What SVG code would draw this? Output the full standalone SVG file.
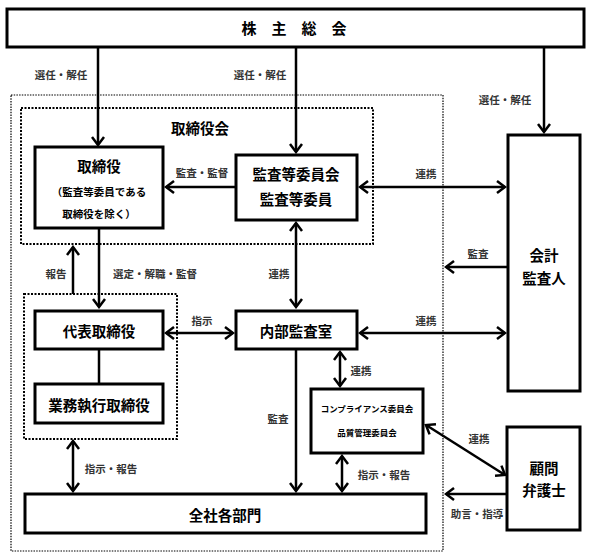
<svg xmlns="http://www.w3.org/2000/svg" width="591" height="558" viewBox="0 0 591 558">
<style>
text{font-family:"Noto Sans CJK JP","Noto Sans CJK SC",sans-serif;text-anchor:middle;dominant-baseline:central;fill:#000}
.box{fill:#fff;stroke:#000;stroke-width:3}
.t{font-size:14.5px;font-weight:bold}
.s{font-size:10.5px;font-weight:bold}
.xs{font-size:8.5px;font-weight:bold}
.lb{font-size:10.5px;font-weight:bold;fill:#333}
.dot1{fill:none;stroke:#000;stroke-width:1.2;stroke-dasharray:1.5 1.2}
.dot2{fill:none;stroke:#000;stroke-width:2;stroke-dasharray:2 1.5}
.c{fill:none;stroke:#000;stroke-width:2.5}
</style>
<defs>
<marker id="ah" markerUnits="userSpaceOnUse" viewBox="-12 -9 14 18" refX="0" refY="0" markerWidth="14" markerHeight="18" orient="auto-start-reverse">
<path d="M-8,-6 L0,0 L-8,6" fill="none" stroke="#000" stroke-width="2.5"/>
</marker>
</defs>
<rect width="591" height="558" fill="#fff"/>
<g id="groups">
<rect id="outer" class="dot1" x="11" y="95" width="432" height="456"/>
<rect id="board" class="dot2" x="21" y="108" width="352" height="136"/>
<text class="t" x="200" y="127">取締役会</text>
<rect id="exec" class="dot2" x="24" y="294" width="153" height="145"/>
</g>
<g id="connectors">
<line class="c" x1="98" y1="47" x2="98" y2="145" marker-end="url(#ah)"/>
<line class="c" x1="296" y1="47" x2="296" y2="152" marker-end="url(#ah)"/>
<line class="c" x1="544" y1="47" x2="544" y2="132" marker-end="url(#ah)"/>
<line class="c" x1="236" y1="187" x2="166" y2="187" marker-end="url(#ah)"/>
<line class="c" x1="360" y1="187" x2="505" y2="187" marker-start="url(#ah)" marker-end="url(#ah)"/>
<line class="c" x1="508" y1="267" x2="446" y2="267" marker-end="url(#ah)"/>
<line class="c" x1="296" y1="223" x2="296" y2="307" marker-start="url(#ah)" marker-end="url(#ah)"/>
<line class="c" x1="73" y1="294" x2="73" y2="247" marker-end="url(#ah)"/>
<line class="c" x1="99" y1="228" x2="99" y2="307" marker-end="url(#ah)"/>
<line class="c" x1="99" y1="349" x2="99" y2="384"/>
<line class="c" x1="166" y1="333" x2="233" y2="333" marker-start="url(#ah)" marker-end="url(#ah)"/>
<line class="c" x1="360" y1="333" x2="505" y2="333" marker-start="url(#ah)" marker-end="url(#ah)"/>
<line class="c" x1="340" y1="352" x2="340" y2="386" marker-start="url(#ah)" marker-end="url(#ah)"/>
<line class="c" x1="296" y1="349" x2="296" y2="491" marker-end="url(#ah)"/>
<line class="c" x1="342" y1="456" x2="342" y2="491" marker-start="url(#ah)" marker-end="url(#ah)"/>
<line class="c" x1="73" y1="441" x2="73" y2="491" marker-start="url(#ah)" marker-end="url(#ah)"/>
<line class="c" x1="426" y1="425" x2="505" y2="475" marker-start="url(#ah)" marker-end="url(#ah)"/>
<line class="c" x1="507" y1="494" x2="446" y2="494" marker-end="url(#ah)"/>
<text class="lb" x="61" y="74">選任・解任</text>
<text class="lb" x="260" y="74">選任・解任</text>
<text class="lb" x="505" y="99">選任・解任</text>
<text class="lb" x="202" y="172">監査・監督</text>
<text class="lb" x="426" y="173">連携</text>
<text class="lb" x="478" y="253">監査</text>
<text class="lb" x="279" y="273">連携</text>
<text class="lb" x="56" y="273">報告</text>
<text class="lb" x="155" y="273">選定・解職・監督</text>
<text class="lb" x="202" y="320">指示</text>
<text class="lb" x="426" y="320">連携</text>
<text class="lb" x="361" y="370">連携</text>
<text class="lb" x="278" y="418">監査</text>
<text class="lb" x="479" y="438">連携</text>
<text class="lb" x="111" y="468">指示・報告</text>
<text class="lb" x="384" y="474">指示・報告</text>
<text class="lb" x="477" y="513">助言・指導</text>
</g>
<g id="shareholders">
<rect class="box" x="7" y="9" width="577" height="38"/>
<text class="t" x="297" y="27" style="font-size:15px;letter-spacing:5.8px">株 主 総 会</text>
</g>
<g id="directors">
<rect class="box" x="35" y="147" width="128" height="81"/>
<text class="t" x="99" y="165">取締役</text>
<text class="s" x="99" y="191">（監査等委員である</text>
<text class="s" x="99" y="213">取締役を除く）</text>
</g>
<g id="audit-committee">
<rect class="box" x="236" y="155" width="121" height="65"/>
<text class="t" x="296" y="173">監査等委員会</text>
<text class="t" x="296" y="198">監査等委員</text>
</g>
<g id="accounting-auditor">
<rect class="box" x="508" y="135" width="72" height="256"/>
<text class="t" x="544" y="254">会計</text>
<text class="t" x="544" y="277">監査人</text>
</g>
<g id="representative">
<rect class="box" x="35" y="311" width="128" height="38"/>
<text class="t" x="99" y="330">代表取締役</text>
</g>
<g id="executive">
<rect class="box" x="35" y="384" width="128" height="39"/>
<text class="t" x="99" y="404">業務執行取締役</text>
</g>
<g id="internal-audit">
<rect class="box" x="236" y="311" width="121" height="38"/>
<text class="t" x="296" y="330">内部監査室</text>
</g>
<g id="compliance">
<rect class="box" x="311" y="389" width="112" height="64"/>
<text class="xs" x="367" y="408">コンプライアンス委員会</text>
<text class="xs" x="367" y="432">品質管理委員会</text>
</g>
<g id="lawyer">
<rect class="box" x="507" y="427" width="73" height="103"/>
<text class="t" x="544" y="467">顧問</text>
<text class="t" x="544" y="489">弁護士</text>
</g>
<g id="departments">
<rect class="box" x="25" y="494" width="401" height="39"/>
<text class="t" x="225" y="514">全社各部門</text>
</g>
</svg>
